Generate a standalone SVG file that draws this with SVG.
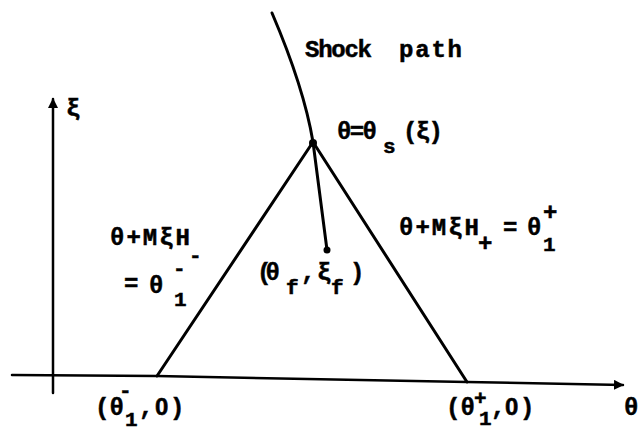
<svg xmlns="http://www.w3.org/2000/svg" width="639" height="431" viewBox="0 0 639 431">
<style>
.ln{fill:none;stroke:#000;stroke-linecap:round;stroke-linejoin:round}
.ax{stroke-width:2.5}
.th{stroke-width:3}
text{font-family:"Liberation Mono","DejaVu Sans Mono",monospace;font-weight:bold;font-size:24px;fill:#000;stroke:#000;stroke-width:0.5}
.sm{font-size:21px}
.z{font-family:"Liberation Sans",Arial,sans-serif}
</style>
<defs>
<marker id="arr" viewBox="0 0 10 10" refX="9" refY="5" markerWidth="4" markerHeight="4" orient="auto" markerUnits="strokeWidth">
<path d="M0,0 L10,5 L0,10 Z" fill="#000"/>
</marker>
</defs>
<rect width="639" height="431" fill="#fff"/>
<g id="axes">
<polyline class="ln ax" points="12,375 157,376 467,382 623,385" marker-end="url(#arr)"/>
<line class="ln ax" x1="53" y1="393" x2="53" y2="99" marker-end="url(#arr)"/>
<text x="624" y="415">θ</text>
<text x="66" y="116">ξ</text>
</g>
<g id="connectors">
<path class="ln th" d="M272,13 C290,55 306,100 313,142"/>
<line class="ln th" x1="157" y1="376" x2="313" y2="142"/>
<line class="ln th" x1="313" y1="142" x2="467" y2="382"/>
<line class="ln th" x1="313" y1="142" x2="327" y2="250"/>
</g>
<g id="apex">
<circle cx="313" cy="143" r="4"/>
<text><tspan x="337" y="139" textLength="40">θ=θ</tspan><tspan x="383" y="153" class="sm">s</tspan><tspan x="403" y="139" textLength="40">(ξ)</tspan></text>
</g>
<g id="shock-label">
<text x="305" y="57"><tspan x="305" textLength="67">Shock</tspan><tspan x="399" textLength="63">path</tspan></text>
</g>
<g id="final-point">
<circle cx="327" cy="250" r="3.5"/>
<text><tspan x="257" y="280" textLength="23">(θ</tspan><tspan x="286" y="294" class="sm">f</tspan><tspan x="301" y="280">,</tspan><tspan x="317" y="280">ξ</tspan><tspan x="331" y="294" class="sm">f</tspan><tspan x="350" y="280">)</tspan></text>
</g>
<g id="left-characteristic">
<text><tspan x="110" y="245" textLength="80">θ+MξH</tspan><tspan x="189" y="262" class="sm">-</tspan></text>
<text><tspan x="124" y="291">=</tspan><tspan x="149" y="293">θ</tspan><tspan x="173" y="275" class="sm">-</tspan><tspan x="174" y="306" class="sm">1</tspan></text>
</g>
<g id="right-characteristic">
<text><tspan x="399" y="235" textLength="80">θ+MξH</tspan><tspan x="478" y="251">+</tspan><tspan x="503" y="235">=</tspan><tspan x="527" y="235">θ</tspan><tspan x="543" y="220">+</tspan><tspan x="543" y="251" class="sm">1</tspan></text>
</g>
<g id="left-foot">
<text><tspan x="95" y="415">(θ</tspan><tspan x="119" y="397" class="sm">-</tspan><tspan x="125" y="426" class="sm">1</tspan><tspan x="139" y="415">,</tspan><tspan x="155" y="415" class="z">0</tspan><tspan x="170" y="415">)</tspan></text>
</g>
<g id="right-foot">
<text><tspan x="446" y="415">(θ</tspan><tspan x="474" y="405" class="sm">+</tspan><tspan x="479" y="425" class="sm">1</tspan><tspan x="491" y="415">,</tspan><tspan x="505" y="415" class="z">0</tspan><tspan x="520" y="415">)</tspan></text>
</g>
</svg>
